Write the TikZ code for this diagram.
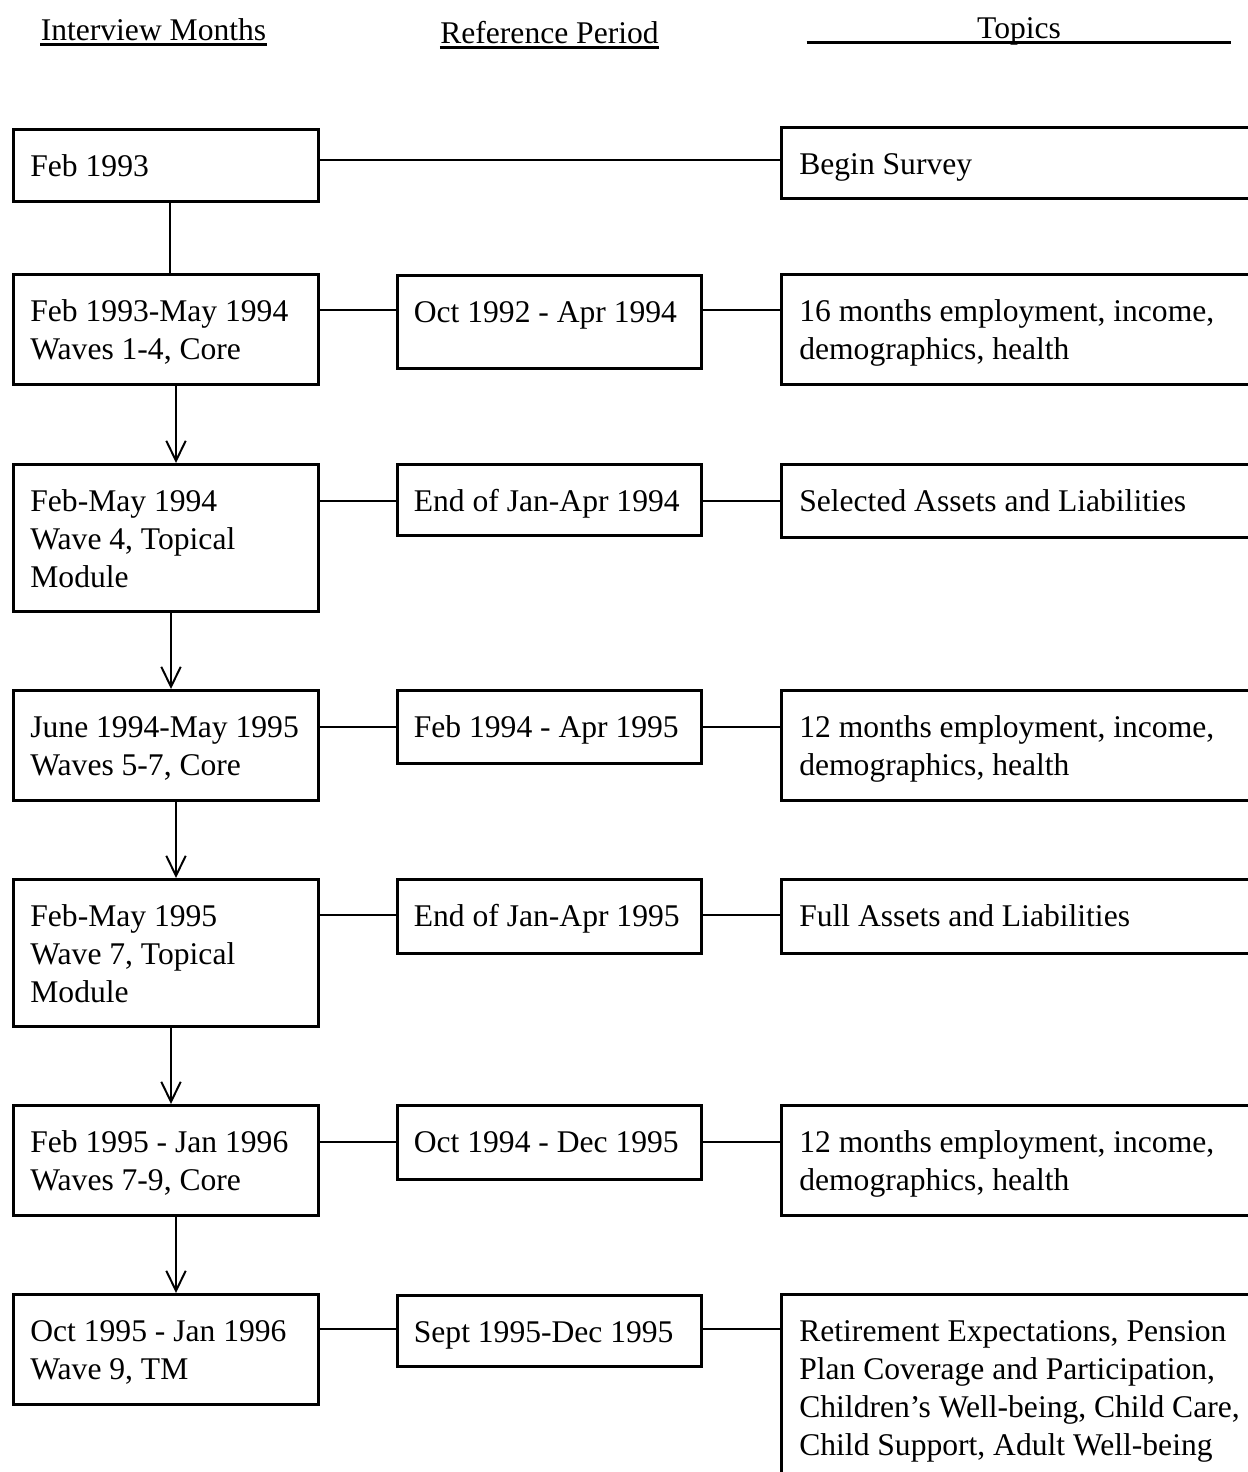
\documentclass[tikz,border=0pt]{standalone}
\usepackage{fontspec}
\setmainfont{Liberation Serif}
\usetikzlibrary{arrows.meta, calc}

\begin{document}
\begin{tikzpicture}[x=0.38pt, y=-0.38pt, font=\fontsize{12}{14.4}\selectfont]
	\tikzstyle{month} = [draw, line width=1.1pt, anchor=north west, align=flush left, inner ysep=0pt, inner xsep=6.45pt, text width=103pt, text height=17.9pt]
	\tikzstyle{period} = [month, inner xsep=6.25pt, text width=103pt]
	\tikzstyle{topic} = [month, inner xsep=6.8pt, text width=185pt]
	\tikzstyle{head} = [inner sep=0pt, anchor=base]
	\tikzstyle{link} = [line width=1.1pt]
	\tikzstyle{flow} = [line width=0.75pt, -{Straight Barb[length=7.6pt,width=7.4pt]}]
	\useasboundingbox[fill=white] (0,0) rectangle (1248,1472);
	\clip (0,0) rectangle (1248,1472);
	\node[head] (hMonths) at (153.5,40) {Interview Months};
	\node[head] (hPeriod) at (549.5,43) {Reference Period};
	\node[head, minimum width=161pt] (hTopics) at (1019,38) {Topics};
	\draw[line width=1pt] ([yshift=-1.6pt]hMonths.base west) -- ([yshift=-1.6pt]hMonths.base east);
	\draw[line width=1pt] ([yshift=-1.6pt]hPeriod.base west) -- ([yshift=-1.6pt]hPeriod.base east);
	\draw[line width=1pt] ([yshift=-1.6pt]hTopics.base west) -- ([yshift=-1.6pt]hTopics.base east);
	\node[month, text depth=9.5pt] (L1) at (12,128) {Feb 1993};
	\node[month, text depth=23.9pt] (L2) at (12,273) {Feb 1993-May 1994\\Waves 1-4, Core};
	\node[month, text depth=38pt] (L3) at (12,463) {Feb-May 1994\\Wave 4, Topical\\Module};
	\node[month, text depth=23.9pt] (L4) at (12,689) {June 1994-May 1995\\Waves 5-7, Core};
	\node[month, text depth=38pt] (L5) at (12,878) {Feb-May 1995\\Wave 7, Topical\\Module};
	\node[month, text depth=23.9pt] (L6) at (12,1104) {Feb 1995 - Jan 1996\\Waves 7-9, Core};
	\node[month, text depth=23.9pt] (L7) at (12,1293) {Oct 1995 - Jan 1996\\Wave 9, TM};
	\node[period, text depth=17.4pt] (M2) at (396,274) {Oct 1992 - Apr 1994};
	\node[period, text depth=9.1pt] (M3) at (396,463) {End of Jan-Apr 1994};
	\node[period, text depth=9.8pt] (M4) at (396,689) {Feb 1994 - Apr 1995};
	\node[period, text depth=10.2pt] (M5) at (396,878) {End of Jan-Apr 1995};
	\node[period, text depth=10.2pt] (M6) at (396,1104) {Oct 1994 - Dec 1995};
	\node[period, text depth=9.1pt] (M7) at (396,1294) {Sept 1995-Dec 1995};
	\node[topic, text depth=9.1pt] (R1) at (780,126) {Begin Survey};
	\node[topic, text depth=23.9pt] (R2) at (780,273) {16 months employment, income,\\demographics, health};
	\node[topic, text depth=9.8pt] (R3) at (780,463) {Selected Assets and Liabilities};
	\node[topic, text depth=23.9pt] (R4) at (780,689) {12 months employment, income,\\demographics, health};
	\node[topic, text depth=10.2pt] (R5) at (780,878) {Full Assets and Liabilities};
	\node[topic, text depth=23.9pt] (R6) at (780,1104) {12 months employment, income,\\demographics, health};
	\node[topic, text depth=60pt] (R7) at (780,1293) {Retirement Expectations, Pension\\Plan Coverage and Participation,\\Children’s Well-being, Child Care,\\Child Support, Adult Well-being};
	\coordinate (r1) at ($(L1.north east)+(0,32)$);
	\coordinate (r2) at ($(L2.north east)+(0,37)$);
	\coordinate (r3) at ($(L3.north east)+(0,38)$);
	\coordinate (r4) at ($(L4.north east)+(0,38)$);
	\coordinate (r5) at ($(L5.north east)+(0,37)$);
	\coordinate (r6) at ($(L6.north east)+(0,38)$);
	\coordinate (r7) at ($(L7.north east)+(0,36)$);
	\draw[link] (r1) -- (r1 -| R1.west);
	\draw[link] (r2) -- (r2 -| M2.west);
	\draw[link] (r2 -| M2.east) -- (r2 -| R2.west);
	\draw[link] (r3) -- (r3 -| M3.west);
	\draw[link] (r3 -| M3.east) -- (r3 -| R3.west);
	\draw[link] (r4) -- (r4 -| M4.west);
	\draw[link] (r4 -| M4.east) -- (r4 -| R4.west);
	\draw[link] (r5) -- (r5 -| M5.west);
	\draw[link] (r5 -| M5.east) -- (r5 -| R5.west);
	\draw[link] (r6) -- (r6 -| M6.west);
	\draw[link] (r6 -| M6.east) -- (r6 -| R6.west);
	\draw[link] (r7) -- (r7 -| M7.west);
	\draw[link] (r7 -| M7.east) -- (r7 -| R7.west);
	\coordinate (xa) at (176,0);
	\coordinate (xb) at (171,0);
	\coordinate (xc) at (170,0);
	\draw[link] (L1.south -| xc) -- (L2.north -| xc);
	\draw[flow] (L2.south -| xa) -- (L3.north -| xa);
	\draw[flow] (L3.south -| xb) -- (L4.north -| xb);
	\draw[flow] (L4.south -| xa) -- (L5.north -| xa);
	\draw[flow] (L5.south -| xb) -- (L6.north -| xb);
	\draw[flow] (L6.south -| xa) -- (L7.north -| xa);
\end{tikzpicture}
\end{document}
